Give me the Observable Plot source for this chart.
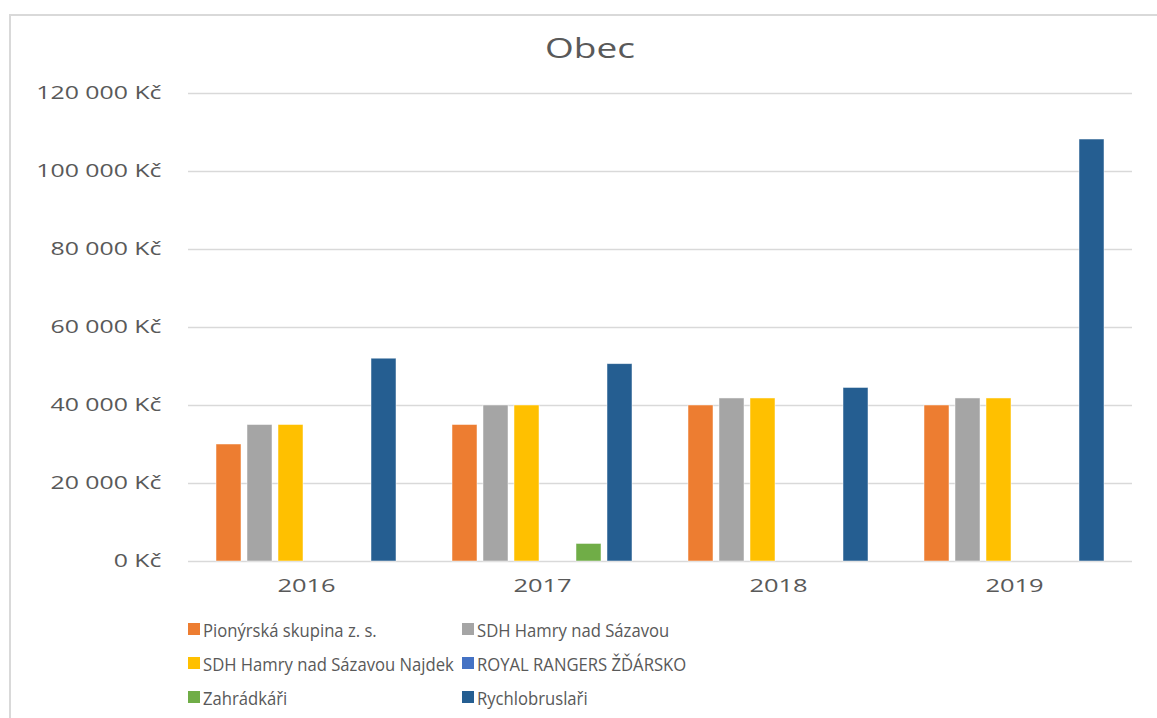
<!DOCTYPE html>
<html>
<head>
<meta charset="utf-8">
<script src="https://cdn.jsdelivr.net/npm/d3@7"></script>
<script src="https://cdn.jsdelivr.net/npm/@observablehq/plot@0.6"></script>
<style>
  html, body { margin: 0; padding: 0; background: #fff; }
  body { width: 1157px; height: 718px; position: relative; overflow: hidden; font-family: "Open Sans", sans-serif; }
  #frame { position: absolute; left: 9px; top: 14px; width: 1160px; height: 720px; border-left: 2px solid #d9d9d9; border-top: 2px solid #d9d9d9; box-sizing: border-box; }
  #chart { position: absolute; left: 0; top: 0; }
  #title { position: absolute; left: 0; width: 1180px; top: 28px; text-align: center; font-size: 28px; color: #595959; }
  #title span { display: inline-block; transform: scaleX(1.32); transform-origin: center; }
  #legend { position: absolute; left: 0; top: 0; }
  .item { position: absolute; display: flex; align-items: center; font-size: 18.5px; color: #595959; white-space: nowrap; }
  .item .tx { display: inline-block; transform: scaleX(0.9); transform-origin: left center; }
  .sw { width: 12px; height: 12px; margin-right: 3px; }
</style>
</head>
<body>
<div id="frame"></div>
<div id="chart"></div>
<div id="title"><span>Obec</span></div>
<div id="legend"></div>
<script>
const years = ["2016", "2017", "2018", "2019"];
const series = [
  "Pionýrská skupina z. s.",
  "SDH Hamry nad Sázavou",
  "SDH Hamry nad Sázavou Najdek",
  "ROYAL RANGERS ŽĎÁRSKO",
  "Zahrádkáři",
  "Rychlobruslaři"
];
const pionyrska = [30000, 35000, 40000, 40000];
const sdhHamry = [35000, 40000, 41800, 41800];
const sdhNajdek = [35000, 40000, 41800, 41800];
const royalRangers = [0, 0, 0, 0];
const zahradkari = [0, 4500, 0, 0];
const rychlobruslari = [52000, 50600, 44500, 108200];
const yTicks = [0, 20000, 40000, 60000, 80000, 100000, 120000];
const colors = ["#ED7D31", "#A5A5A5", "#FFC000", "#4472C4", "#70AD47", "#255E91"];

const values = [pionyrska, sdhHamry, sdhNajdek, royalRangers, zahradkari, rychlobruslari];
const data = years.flatMap((y, i) => series.map((s, j) => ({year: y, series: s, value: values[j][i]})));

const fmt = d => d3.format(",")(d).replace(/,/g, " ") + " Kč";

const chart = Plot.plot({
  width: 1157,
  height: 600,
  marginLeft: 187,
  marginRight: 24,
  marginTop: 93,
  marginBottom: 39,
  style: {fontFamily: "Open Sans", fontSize: "18px", color: "#595959", background: "transparent"},
  fx: {domain: years, padding: 0, label: null},
  x: {domain: series, paddingInner: 0.2, paddingOuter: 0.855, axis: null},
  y: {domain: [0, 120000], axis: null},
  color: {domain: series, range: colors},
  marks: [
    Plot.gridY(yTicks, {stroke: "#d9d9d9", strokeOpacity: 1, strokeWidth: 1.4}),
    Plot.axisY(yTicks, {tickFormat: fmt, tickSize: 0, tickPadding: 27, label: null, fill: "#595959"}),
    Plot.axisFx({tickSize: 0, tickPadding: 17, label: null, anchor: "bottom", fill: "#595959", fontSize: 19}),
    Plot.barY(data, {fx: "year", x: "series", y: "value", fill: "series", stroke: "#ffffff", strokeOpacity: 0.6, strokeWidth: 0.8})
  ]
});
document.getElementById("chart").appendChild(chart);

// widen tick label glyphs to match the reference's stretched lettering
function stretch(selector, k) {
  chart.querySelectorAll(selector).forEach(t => {
    const w = t.getComputedTextLength();
    t.setAttribute("textLength", w * k);
    t.setAttribute("lengthAdjust", "spacingAndGlyphs");
  });
}
stretch('g[aria-label="y-axis tick label"] text', 1.38);
stretch('g[aria-label="fx-axis tick label"] text', 1.34);

const legend = document.getElementById("legend");
const cols = [188, 462];
const rows = [629, 663, 697];
series.forEach((s, i) => {
  const el = document.createElement("div");
  el.className = "item";
  el.style.left = cols[i % 2] + "px";
  el.style.top = (rows[Math.floor(i / 2)] - 13) + "px";
  el.style.height = "26px";
  const sw = document.createElement("span");
  sw.className = "sw";
  sw.style.background = colors[i];
  const tx = document.createElement("span");
  tx.className = "tx";
  tx.textContent = s;
  el.appendChild(sw);
  el.appendChild(tx);
  legend.appendChild(el);
});
</script>
</body>
</html>
